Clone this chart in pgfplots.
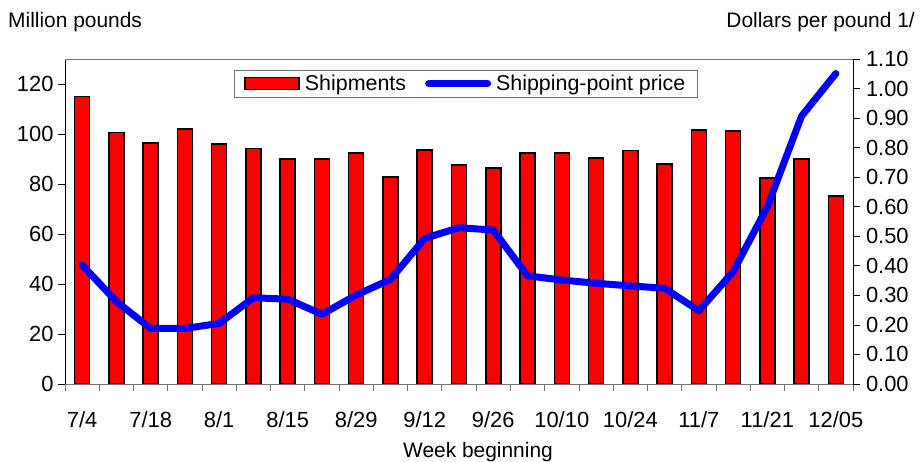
\documentclass[border=0pt]{standalone}
\usepackage{pgfplots}
\usepackage{pgfplotstable}
\pgfplotsset{compat=1.18}
\usepackage{fontspec}
\setmainfont{Liberation Sans}

\pgfplotstableread{
x ship price
0 115 0.403
1 100.5 0.279
2 96.3 0.188
3 101.9 0.188
4 96 0.205
5 94.1 0.292
6 89.9 0.287
7 89.9 0.236
8 92.3 0.301
9 82.7 0.354
10 93.5 0.493
11 87.5 0.529
12 86.3 0.521
13 92.3 0.366
14 92.3 0.352
15 90.4 0.341
16 93.3 0.332
17 87.9 0.324
18 101.6 0.248
19 101.1 0.380
20 82.3 0.600
21 89.9 0.907
22 75.2 1.051
}\data

\begin{document}
\begin{tikzpicture}
\path[use as bounding box] (0bp,0bp) rectangle (920bp,462bp);
\pgfplotsset{
  common/.style={
    at={(65bp,78bp)}, anchor=south west, scale only axis,
    width=788bp, height=325bp,
    xmin=-0.5, xmax=22.5,
    tick align=outside,
    major tick length=7bp, minor tick length=7bp,
    /pgf/number format/assume math mode=true,
    ticklabel style={font=\fontsize{22}{26}\selectfont},
    axis line style={-},
  }
}
\begin{axis}[common,
  ymin=0, ymax=130,
  axis y line*=left, axis x line*=bottom,
  ytick={0,20,40,60,80,100,120},
  xtick={0,2,4,6,8,10,12,14,16,18,20,22},
  xticklabels={7/4,7/18,8/1,8/15,8/29,9/12,9/26,10/10,10/24,11/7,11/21,12/05},
  minor xtick={-0.5,0.5,...,22.5},
  major x tick style={draw=none},
  minor x tick style={draw=black!55, line width=0.8bp},
  x axis line style={draw=black!55, line width=0.8bp},
  y axis line style={draw=black, line width=0.8bp},
  y tick style={draw=black, line width=0.8bp},
  xticklabel style={yshift=-17bp},
  yticklabel style={xshift=-1bp},
]
\addplot[ybar, bar width=15bp, fill=red, draw=black, line width=1.5bp] table[x=x, y=ship] {\data};
\draw[black!55, line width=0.8bp] (rel axis cs:0,1) -- (rel axis cs:1,1);
\end{axis}
\begin{axis}[common,
  ymin=0, ymax=1.1,
  axis y line*=right, axis x line=none,
  ytick={0,0.1,0.2,0.3,0.4,0.5,0.6,0.7,0.8,0.9,1.0,1.1},
  yticklabel style={xshift=2.5bp, /pgf/number format/.cd, fixed, fixed zerofill, precision=2},
  y axis line style={draw=black, line width=0.8bp},
  y tick style={draw=black, line width=0.8bp},
  legend columns=2,
  legend style={at={(0.2145,0.967)}, anchor=north west, draw=black!55, line width=0.8bp,
    font=\fontsize{21.5}{25}\selectfont, inner xsep=10bp, inner ysep=3bp,
    /tikz/every even column/.append style={column sep=17bp},
    /tikz/every odd column/.append style={column sep=3bp}},
  legend cell align=left,
]
\addlegendimage{legend image code/.code={\draw[fill=red, draw=black, line width=1.5bp] (0bp,-6bp) rectangle (54bp,6bp);}}
\addlegendentry{Shipments}
\addplot[blue, line width=7bp, line join=round, line cap=round,
  legend image code/.code={\draw[blue, line width=7bp, line cap=round] (0bp,0bp) -- (59bp,0bp);}]
  table[x=x, y=price] {\data};
\addlegendentry{Shipping-point price}
\end{axis}
\node[anchor=base west, font=\fontsize{21}{24}\selectfont, inner sep=0pt] at (8bp,434bp) {Million pounds};
\node[anchor=base east, font=\fontsize{21}{24}\selectfont, inner sep=0pt] at (915bp,434bp) {Dollars per pound 1/};
\node[anchor=base, font=\fontsize{21}{24}\selectfont, inner sep=0pt] at (478bp,5bp) {Week beginning};
\end{tikzpicture}
\end{document}
